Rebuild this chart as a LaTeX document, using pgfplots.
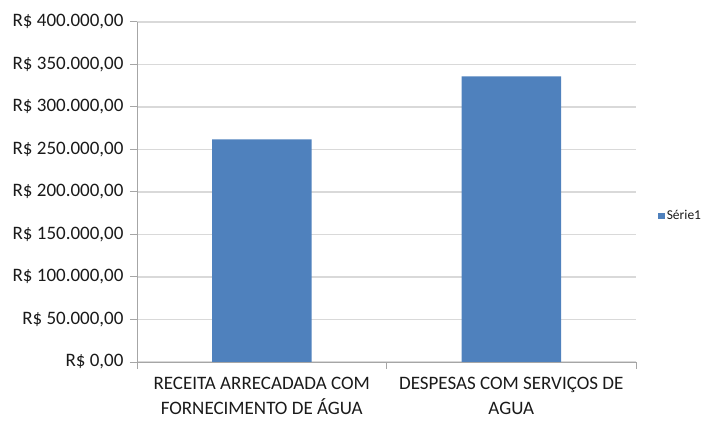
\documentclass[border=0pt]{standalone}
\usepackage{fontspec}
\setmainfont{Carlito}
\usepackage{pgfplots}
\pgfplotsset{compat=1.18}
\definecolor{barblue}{HTML}{4F81BD}
\definecolor{gridc}{HTML}{D9D9D9}
\definecolor{axc}{HTML}{A6A6A6}
\definecolor{txt}{HTML}{1A1A1A}
\begin{document}
\begin{tikzpicture}
\path[use as bounding box] (0,0) rectangle (705bp,421bp);
\begin{axis}[
  at={(137bp,59bp)}, anchor=south west,
  scale only axis, width=499bp, height=340bp,
  ymin=0, ymax=400000,
  xmin=-0.5, xmax=1.5,
  scaled y ticks=false,
  ybar, bar width=99.5bp,
  axis x line*=bottom, axis y line*=left,
  axis line style={draw=axc, line width=1bp, -},
  ymajorgrids, grid style={draw=gridc, line width=1.2bp},
  ytick={0,50000,100000,150000,200000,250000,300000,350000,400000},
  yticklabels={{R\$ 0,00},{R\$ 50.000,00},{R\$ 100.000,00},{R\$ 150.000,00},{R\$ 200.000,00},{R\$ 250.000,00},{R\$ 300.000,00},{R\$ 350.000,00},{R\$ 400.000,00}},
  xtick={0,1},
  xticklabels={{RECEITA ARRECADADA COM\\FORNECIMENTO DE ÁGUA},{DESPESAS COM SERVIÇOS DE\\AGUA}},
  minor xtick={-0.5,0.5,1.5},
  tick align=outside,
  major tick length=7bp, minor tick length=7bp,
  major x tick style={draw=none},
  minor x tick style={draw=axc, line width=1bp},
  major y tick style={draw=axc, line width=1bp},
  yticklabel style={font=\fontsize{19bp}{22bp}\selectfont, text=txt, xshift=-3bp},
  xticklabel style={font=\fontsize{19bp}{25bp}\selectfont, text=txt, align=center, yshift=-5bp},
  legend style={at={(1,0.43)}, anchor=west, xshift=19bp, draw=none, fill=none,
    font=\fontsize{13.5bp}{15bp}\selectfont, text=txt},
  legend image code/.code={\fill[barblue] (0bp,-3.3bp) rectangle (6.6bp,3.3bp);},
]
\addplot[fill=barblue, draw=none] coordinates {(0,262000) (1,336000)};
\addlegendentry{Série1}
\end{axis}
\end{tikzpicture}
\end{document}
